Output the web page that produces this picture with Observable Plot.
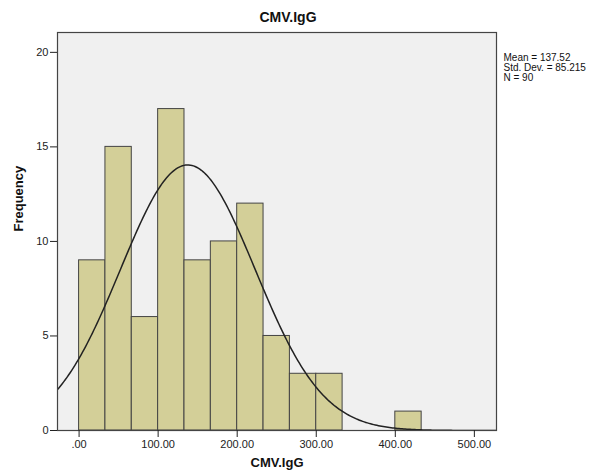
<!DOCTYPE html>
<html><head><meta charset="utf-8">
<script src="https://cdn.jsdelivr.net/npm/d3@7"></script>
<script src="https://cdn.jsdelivr.net/npm/@observablehq/plot@0.6"></script>
<style>body{margin:0;background:#fff;} svg{font-family:"Liberation Sans",Arial,sans-serif;}</style>
</head><body><div id="chart"></div>
<script>
const binWidth = 100 / 3;
const binLower = [0, 33.33, 66.67, 100, 133.33, 166.67, 200, 233.33, 266.67, 300, 400];
const counts = [9, 15, 6, 17, 9, 10, 12, 5, 3, 3, 1];
const xTicks = [0, 100, 200, 300, 400, 500];
const yTicks = [0, 5, 10, 15, 20];
const stats = {mean: 137.52, sd: 85.215, n: 90};
const titleText = "CMV.IgG";
const xLabel = "CMV.IgG";
const yLabel = "Frequency";

const bars = binLower.map((x, i) => ({x1: x, x2: x + binWidth, y: counts[i]}));
const xDomain = [-27.3, 528];
const curve = d3.range(xDomain[0], xDomain[1] + 1, 2).map(x => ({
  x, y: stats.n * binWidth / (stats.sd * Math.sqrt(2 * Math.PI)) * Math.exp(-0.5 * ((x - stats.mean) / stats.sd) ** 2)
}));
const fmtX = d => d === 0 ? ".00" : d.toFixed(2);

const chart = Plot.plot({
  width: 600, height: 474,
  marginLeft: 57, marginRight: 104, marginTop: 32, marginBottom: 44,
  style: {fontFamily: '"Liberation Sans", Arial, sans-serif', fontSize: "11px", color: "#222"},
  x: {domain: xDomain, ticks: xTicks, tickFormat: fmtX, label: null, tickSize: 7, tickPadding: 3},
  y: {domain: [0, 21.05], ticks: yTicks, label: null, tickSize: 7, tickPadding: 2},
  marks: [
    Plot.frame({fill: "#f0f0f0", stroke: null}),
    Plot.rectY(bars, {x1: "x1", x2: "x2", y: "y", fill: "#d3cf98", stroke: "#444", strokeWidth: 1, inset: 0}),
    Plot.line(curve, {x: "x", y: "y", stroke: "#222", strokeWidth: 1.5, clip: true}),
    Plot.frame({stroke: "#444", strokeWidth: 1.2}),
    Plot.axisX({ticks: xTicks, tickFormat: fmtX, tickSize: 7, tickPadding: 3, label: null}),
    Plot.axisY({ticks: yTicks, tickSize: 7, tickPadding: 2, label: null}),
    Plot.text([titleText], {frameAnchor: "top", dy: -20, dx: 11, fontSize: 14, fontWeight: "bold", fill: "#111"}),
    Plot.text([xLabel], {frameAnchor: "bottom", dy: 36, fontSize: 13, fontWeight: "bold", fill: "#111"}),
    Plot.text([yLabel], {frameAnchor: "left", dx: -39, rotate: -90, fontSize: 13, fontWeight: "bold", fill: "#111"}),
    Plot.text([`Mean = ${stats.mean}\nStd. Dev. = ${stats.sd}\nN = ${stats.n}`], {frameAnchor: "top-right", dx: 7, dy: 21, textAnchor: "start", lineAnchor: "top", fontSize: 10, lineHeight: 1.0, fill: "#111"})
  ]
});
document.getElementById("chart").appendChild(chart);
</script></body></html>
